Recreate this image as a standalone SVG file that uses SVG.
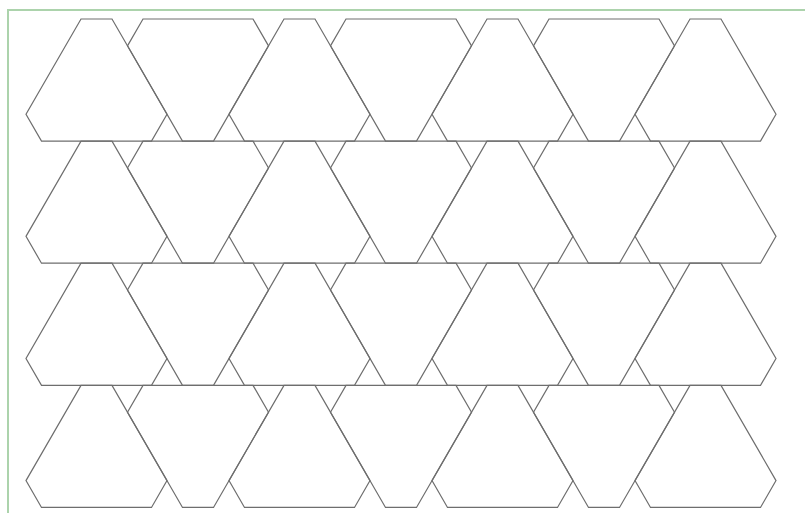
<svg xmlns="http://www.w3.org/2000/svg" xmlns:xlink="http://www.w3.org/1999/xlink" width="805" height="513" viewBox="0 0 805 513">
<style>
.t{fill:none;stroke:#6e6e6e;stroke-width:1.2;stroke-linejoin:miter}
.frame{fill:none;stroke:#acd3ac;stroke-width:2}
</style>
<defs>
<polygon id="up" points="-15.5,0 15.5,0 70.5,95.26 55,122.11 -55,122.11 -70.5,95.26"/>
<polygon id="dn" points="-55,0 55,0 70.5,26.85 15.5,122.11 -15.5,122.11 -70.5,26.85"/>
</defs>
<rect x="0" y="0" width="805" height="513" fill="#ffffff"/>
<rect class="frame" x="8" y="10" width="820" height="530"/>
<g id="row1">
<g id="r1t1"><use class="t" xlink:href="#up" href="#up" x="96.5" y="19"/></g>
<g id="r1t2"><use class="t" xlink:href="#dn" href="#dn" x="198" y="19"/></g>
<g id="r1t3"><use class="t" xlink:href="#up" href="#up" x="299.5" y="19"/></g>
<g id="r1t4"><use class="t" xlink:href="#dn" href="#dn" x="401" y="19"/></g>
<g id="r1t5"><use class="t" xlink:href="#up" href="#up" x="502.5" y="19"/></g>
<g id="r1t6"><use class="t" xlink:href="#dn" href="#dn" x="604" y="19"/></g>
<g id="r1t7"><use class="t" xlink:href="#up" href="#up" x="705.5" y="19"/></g>
</g>
<g id="row2">
<g id="r2t1"><use class="t" xlink:href="#up" href="#up" x="96.5" y="141.11"/></g>
<g id="r2t2"><use class="t" xlink:href="#dn" href="#dn" x="198" y="141.11"/></g>
<g id="r2t3"><use class="t" xlink:href="#up" href="#up" x="299.5" y="141.11"/></g>
<g id="r2t4"><use class="t" xlink:href="#dn" href="#dn" x="401" y="141.11"/></g>
<g id="r2t5"><use class="t" xlink:href="#up" href="#up" x="502.5" y="141.11"/></g>
<g id="r2t6"><use class="t" xlink:href="#dn" href="#dn" x="604" y="141.11"/></g>
<g id="r2t7"><use class="t" xlink:href="#up" href="#up" x="705.5" y="141.11"/></g>
</g>
<g id="row3">
<g id="r3t1"><use class="t" xlink:href="#up" href="#up" x="96.5" y="263.22"/></g>
<g id="r3t2"><use class="t" xlink:href="#dn" href="#dn" x="198" y="263.22"/></g>
<g id="r3t3"><use class="t" xlink:href="#up" href="#up" x="299.5" y="263.22"/></g>
<g id="r3t4"><use class="t" xlink:href="#dn" href="#dn" x="401" y="263.22"/></g>
<g id="r3t5"><use class="t" xlink:href="#up" href="#up" x="502.5" y="263.22"/></g>
<g id="r3t6"><use class="t" xlink:href="#dn" href="#dn" x="604" y="263.22"/></g>
<g id="r3t7"><use class="t" xlink:href="#up" href="#up" x="705.5" y="263.22"/></g>
</g>
<g id="row4">
<g id="r4t1"><use class="t" xlink:href="#up" href="#up" x="96.5" y="385.33"/></g>
<g id="r4t2"><use class="t" xlink:href="#dn" href="#dn" x="198" y="385.33"/></g>
<g id="r4t3"><use class="t" xlink:href="#up" href="#up" x="299.5" y="385.33"/></g>
<g id="r4t4"><use class="t" xlink:href="#dn" href="#dn" x="401" y="385.33"/></g>
<g id="r4t5"><use class="t" xlink:href="#up" href="#up" x="502.5" y="385.33"/></g>
<g id="r4t6"><use class="t" xlink:href="#dn" href="#dn" x="604" y="385.33"/></g>
<g id="r4t7"><use class="t" xlink:href="#up" href="#up" x="705.5" y="385.33"/></g>
</g>
<g id="connectors"></g>
</svg>
